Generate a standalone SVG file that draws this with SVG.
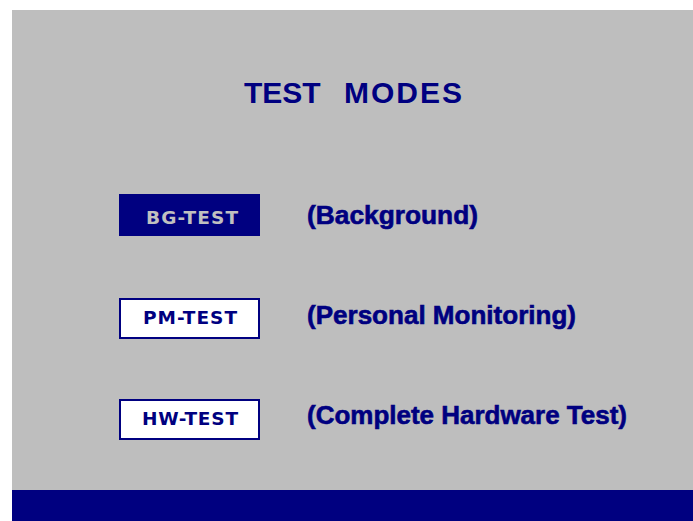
<svg xmlns="http://www.w3.org/2000/svg" width="693" height="521" viewBox="0 0 693 521">
<style>
.navy{fill:#000080}
.title{font-family:"Liberation Sans",Arial,sans-serif;font-weight:bold;font-size:30px;fill:#000080}
.lbl{font-family:"Liberation Sans",Arial,sans-serif;font-weight:bold;font-size:26px;fill:#000080;stroke:#000080;stroke-width:0.6}
.btxt{font-family:"DejaVu Sans",Verdana,sans-serif;font-weight:bold;font-size:18.5px;text-anchor:middle}
.box{fill:#ffffff;stroke:#000080;stroke-width:2}
</style>
<rect x="0" y="0" width="693" height="521" fill="#ffffff"/>
<rect x="12" y="10" width="681" height="480" fill="#bebebe"/>
<rect x="12" y="490" width="681" height="31" class="navy"/>
<text class="title" y="103"><tspan x="244">TEST</tspan><tspan x="344" textLength="118" lengthAdjust="spacing">MODES</tspan></text>
<g id="bg-test">
<rect x="119" y="194" width="141" height="42" class="navy"/>
<text class="btxt" x="192" y="223.5" fill="#c0c0c0" textLength="92" lengthAdjust="spacing">BG-TEST</text>
</g>
<text class="lbl" x="307" y="224" textLength="171" lengthAdjust="spacingAndGlyphs">(Background)</text>
<g id="pm-test">
<rect x="120" y="299" width="139" height="39" class="box"/>
<text class="btxt" x="190" y="324" fill="#000080" textLength="94" lengthAdjust="spacing">PM-TEST</text>
</g>
<text class="lbl" x="307" y="324" textLength="269" lengthAdjust="spacingAndGlyphs">(Personal Monitoring)</text>
<g id="hw-test">
<rect x="120" y="400" width="139" height="39" class="box"/>
<text class="btxt" x="190" y="425" fill="#000080" textLength="96" lengthAdjust="spacing">HW-TEST</text>
</g>
<text class="lbl" x="307" y="424" textLength="320" lengthAdjust="spacingAndGlyphs">(Complete Hardware Test)</text>
</svg>
